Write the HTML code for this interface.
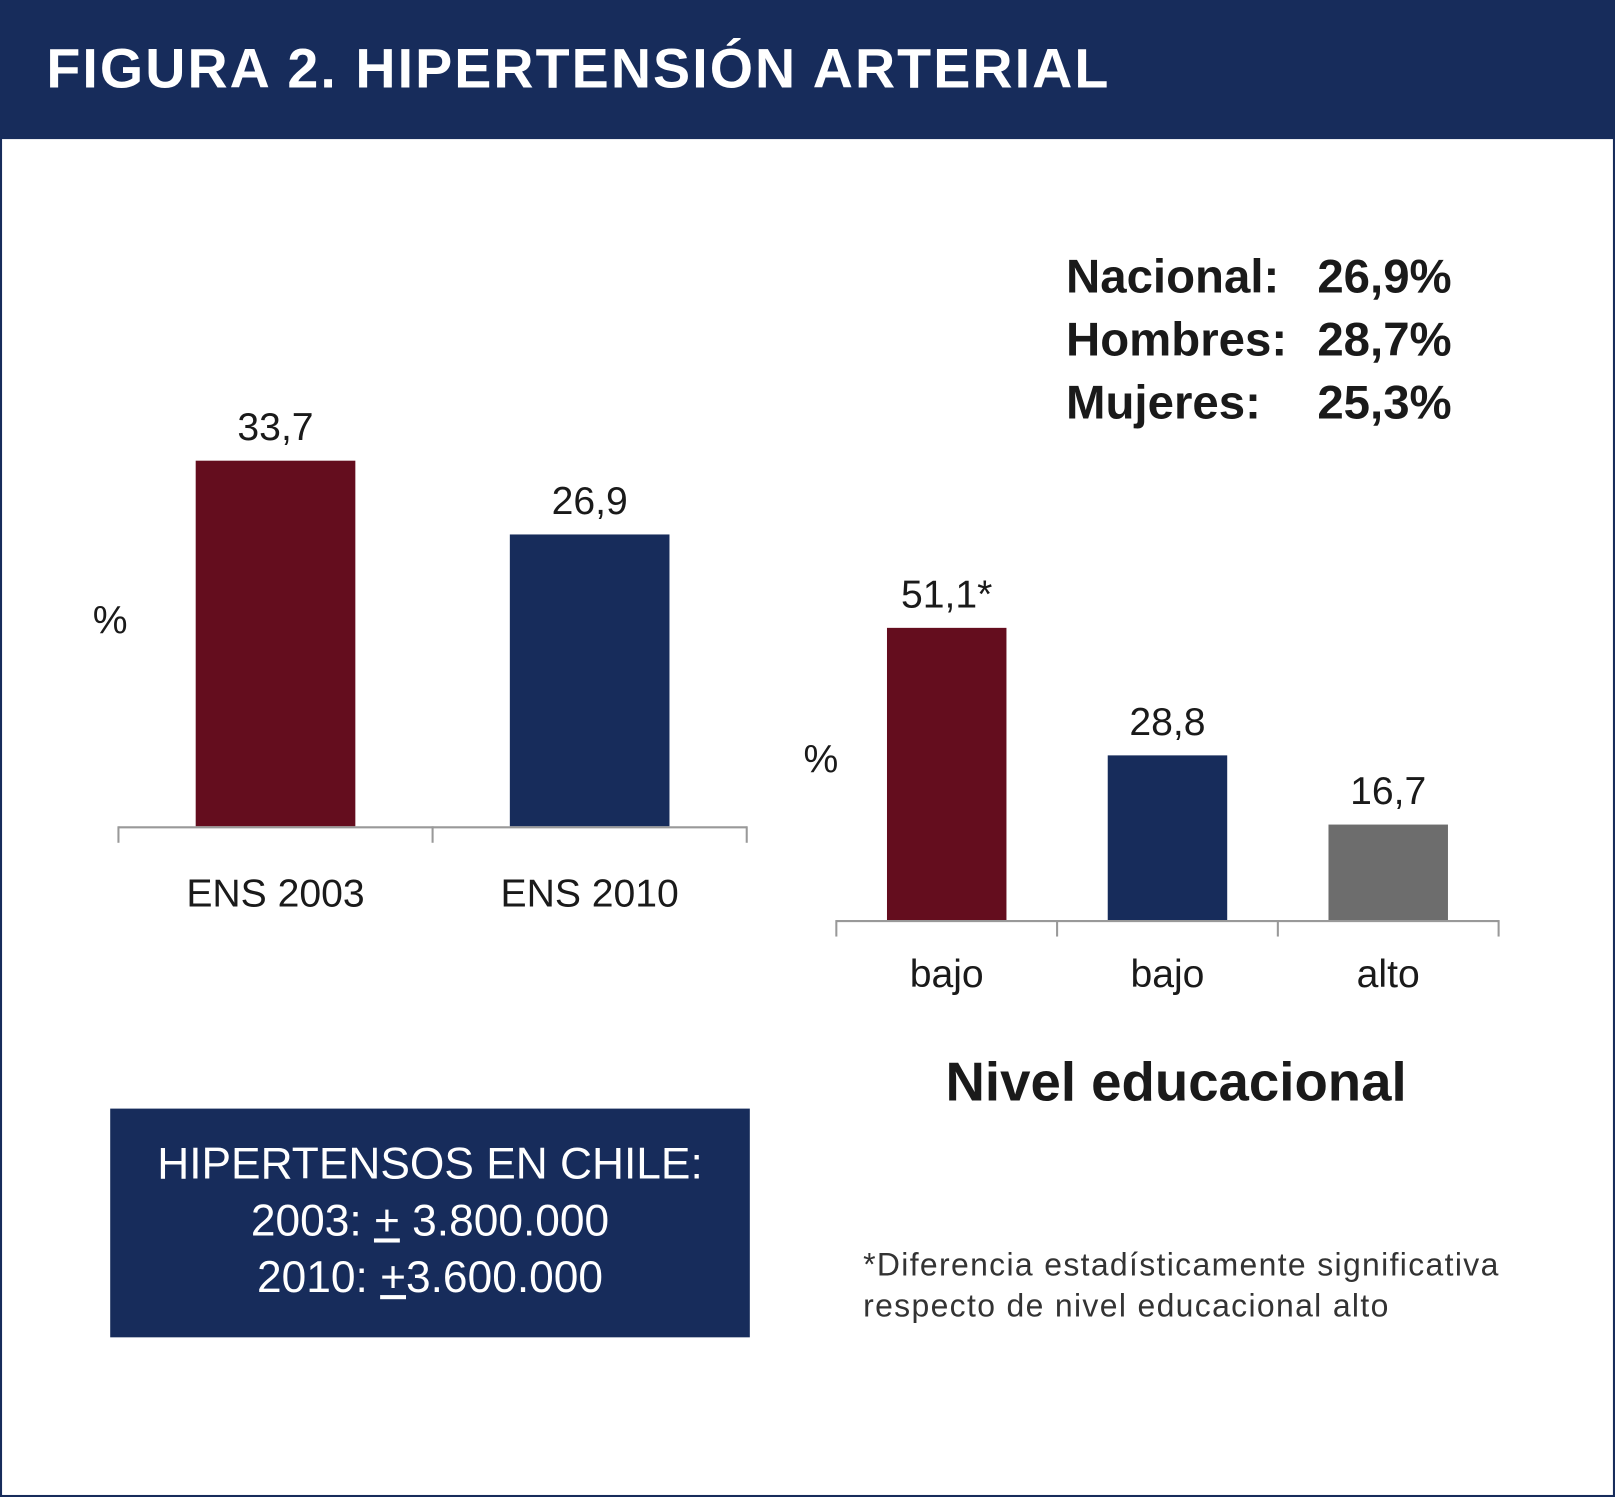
<!DOCTYPE html>
<html><head><meta charset="utf-8">
<style>
html,body{margin:0;padding:0;background:#fff;}
body{width:1615px;height:1497px;overflow:hidden;position:relative;}
#wrap{position:absolute;left:0;top:0;width:1568px;height:1453px;transform:scale(1.02997,1.0303);transform-origin:0 0;font-family:"Liberation Sans",sans-serif;}
.t{position:absolute;white-space:nowrap;}
</style></head><body>
<div id="wrap">
  <div style="position:absolute;left:0;top:0;width:1564px;height:1449px;border:2px solid #172c5b;"></div>
  <div style="position:absolute;left:0;top:0;width:1568px;height:135px;background:#172c5b;"></div>
  <div class="t" style="left:45px;top:36px;font-size:54px;font-weight:bold;color:#fff;letter-spacing:2px;">FIGURA 2. HIPERTENSIÓN ARTERIAL</div>

  <div style="position:absolute;left:1035px;top:238px;width:390px;font-size:46px;font-weight:bold;color:#1a1a1a;line-height:61px;">
    <div style="position:relative"><span>Nacional:</span><span style="position:absolute;left:244px">26,9%</span></div>
    <div style="position:relative"><span>Hombres:</span><span style="position:absolute;left:244px">28,7%</span></div>
    <div style="position:relative"><span>Mujeres:</span><span style="position:absolute;left:244px">25,3%</span></div>
  </div>

  <svg id="chart" width="1568" height="1453" style="position:absolute;left:0;top:0"></svg>

  <div class="t" style="left:918px;top:1020px;font-size:53px;font-weight:bold;color:#1a1a1a;">Nivel educacional</div>

  <div style="position:absolute;left:107px;top:1076px;width:621px;height:222px;background:#172c5b;color:#fff;font-size:43px;text-align:center;line-height:55px;padding-top:27px;box-sizing:border-box;">
    <div>HIPERTENSOS EN CHILE:</div>
    <div>2003: <u>+</u> 3.800.000</div>
    <div>2010: <u>+</u>3.600.000</div>
  </div>

  <div class="t" style="left:838px;top:1208px;font-size:31px;letter-spacing:1.3px;color:#333;line-height:40px;">*Diferencia estadísticamente significativa<br>respecto de nivel educacional alto</div>
</div>
<script>
const leftCats=["ENS 2003","ENS 2010"];
const leftVals=[33.7,26.9];
const leftLabels=["33,7","26,9"];
const rightCats=["bajo","bajo","alto"];
const rightVals=[51.1,28.8,16.7];
const rightLabels=["51,1*","28,8","16,7"];
const colors=["#640d1e","#172c5b","#6d6d6d"];
const NS="http://www.w3.org/2000/svg";
const svg=document.getElementById('chart');
function mk(tag,attrs){const e=document.createElementNS(NS,tag);for(const k in attrs)e.setAttribute(k,attrs[k]);svg.appendChild(e);return e;}
function txt(x,y,s,size){const e=mk('text',{x:x,y:y,'text-anchor':'middle','font-size':size,fill:'#1a1a1a','font-family':'"Liberation Sans Narrow","Liberation Sans",sans-serif'});e.textContent=s;return e;}
function chart(cfg){
  const n=cfg.cats.length, band=(cfg.x1-cfg.x0)/n;
  const yScale=v=>cfg.base-v*cfg.k;
  cfg.vals.forEach((v,i)=>{
    const cx=cfg.x0+band*(i+0.5);
    const r=mk('rect',{x:cx-cfg.bw/2,y:yScale(v),width:cfg.bw,height:cfg.base-yScale(v),fill:colors[i]});
    
    
    const l=txt(cx,yScale(v)-20,cfg.labels[i],38);
    
    
    const c=txt(cx,cfg.base+cfg.catDy,cfg.cats[i],38);
    
    
  });
  const ax=mk('line',{x1:cfg.x0,x2:cfg.x1,y1:cfg.base+1,y2:cfg.base+1,stroke:'#999','stroke-width':2});
  
  
  for(let i=0;i<=n;i++){
    const tx=cfg.x0+band*i;
    const t=mk('line',{x1:tx,x2:tx,y1:cfg.base,y2:cfg.base+16,stroke:'#999','stroke-width':2});
    
    
  }
  const p=txt(cfg.pctX,cfg.pctY,'%',38);
  
  
}
chart({id:'ens',cats:leftCats,vals:leftVals,labels:leftLabels,x0:115,x1:725,base:802,k:10.53,bw:155,catDy:78,pctX:107,pctY:615});
chart({id:'edu',cats:rightCats,vals:rightVals,labels:rightLabels,x0:812,x1:1455,base:893,k:5.55,bw:116,catDy:65,pctX:797,pctY:750});
</script>
</body></html>
